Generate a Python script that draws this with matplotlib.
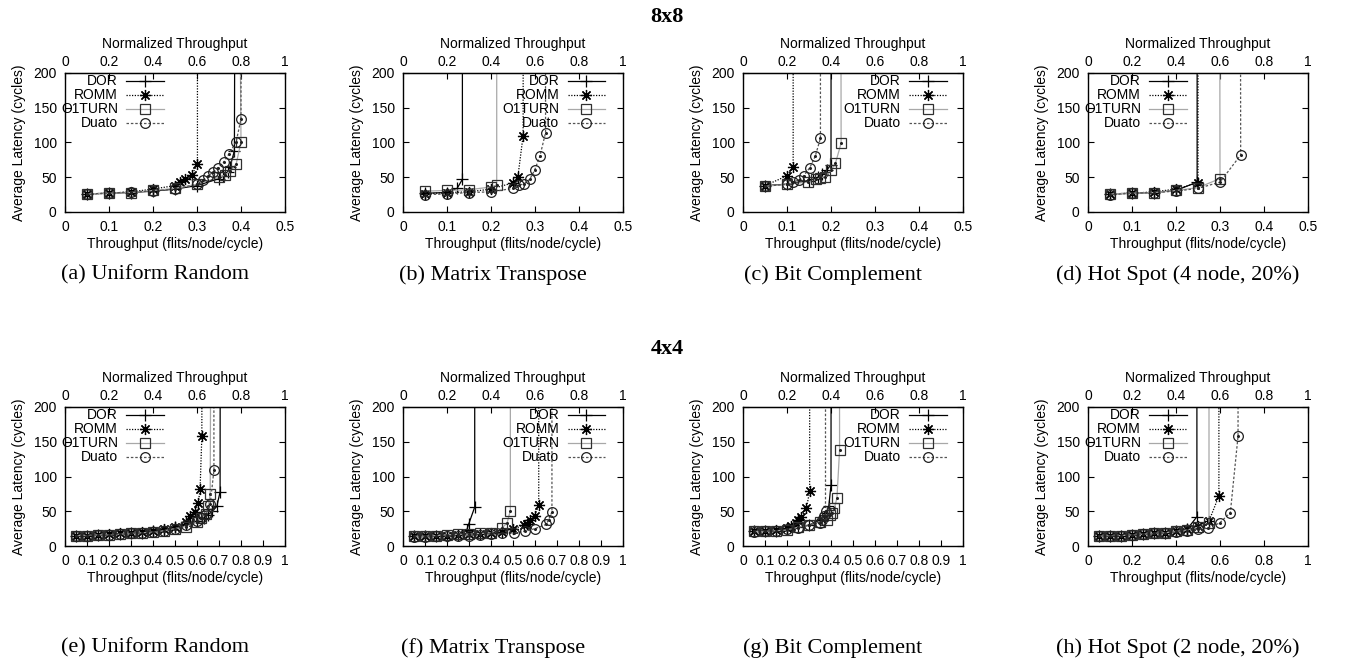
import matplotlib
matplotlib.use("Agg")
import matplotlib.pyplot as plt
import numpy as np
from matplotlib.ticker import FuncFormatter

SANS = "Liberation Sans"
SERIF = "Liberation Serif"
SAT = 1000  # latency past saturation, runs off the top of the plot

series_names = ["DOR", "ROMM", "O1TURN", "Duato"]

# ---- 8x8 ----
# (a) uniform random
a_dor_x = [0.05, 0.1, 0.15, 0.2, 0.25, 0.3, 0.35, 0.36, 0.37, 0.375, 0.385, 0.389]
a_dor_y = [26, 27, 28, 30, 33, 38, 48, 52, 58, 65, 88, SAT]
a_romm_x = [0.05, 0.1, 0.15, 0.2, 0.25, 0.262, 0.273, 0.288, 0.301, 0.301]
a_romm_y = [26, 27, 29, 33, 38, 43, 47, 53, 69, SAT]
a_o1_x = [0.05, 0.1, 0.15, 0.2, 0.25, 0.301, 0.35, 0.364, 0.375, 0.389, 0.4, 0.389]
a_o1_y = [26, 27, 28, 31, 34, 40, 50, 53, 59, 69, 101, SAT]
a_duato_x = [0.05, 0.1, 0.15, 0.2, 0.25, 0.3, 0.314, 0.326, 0.337, 0.348, 0.361, 0.373, 0.389, 0.4, 0.4]
a_duato_y = [26, 27, 29, 30, 33, 40, 46, 52, 58, 64, 72, 84, 101, 134, SAT]

# (b) matrix transpose
b_dor_x = [0.05, 0.1, 0.123, 0.135, 0.135]
b_dor_y = [27, 28, 34, 47, SAT]
b_romm_x = [0.05, 0.1, 0.15, 0.2, 0.25, 0.261, 0.273, 0.274]
b_romm_y = [26, 28, 29, 33, 42, 50, 110, SAT]
b_o1_x = [0.05, 0.1, 0.15, 0.2, 0.213, 0.213]
b_o1_y = [30, 31, 32, 36, 39, SAT]
b_duato_x = [0.05, 0.1, 0.15, 0.2, 0.25, 0.264, 0.274, 0.288, 0.299, 0.311, 0.324, 0.323]
b_duato_y = [25, 26, 28, 29, 34, 39, 40, 47, 60, 80, 114, SAT]

# (c) bit complement
c_dor_x = [0.05, 0.1, 0.15, 0.16, 0.17, 0.18, 0.19, 0.2, 0.201]
c_dor_y = [38, 40, 45, 47, 50, 55, 60, 68, SAT]
c_romm_x = [0.05, 0.1, 0.114, 0.114]
c_romm_y = [38, 52, 65, SAT]
c_o1_x = [0.05, 0.1, 0.148, 0.165, 0.175, 0.186, 0.2, 0.21, 0.223, 0.221]
c_o1_y = [37, 40, 43, 47, 49, 51, 60, 70, 99, SAT]
c_duato_x = [0.05, 0.1, 0.114, 0.127, 0.138, 0.152, 0.164, 0.176, 0.176]
c_duato_y = [37, 40, 43, 46, 52, 64, 80, 106, SAT]

# (d) hot spot (4 node, 20%)
d_dor_x = [0.05, 0.1, 0.15, 0.2, 0.248, 0.248]
d_dor_y = [26, 27, 28, 31, 43, SAT]
d_romm_x = [0.05, 0.1, 0.15, 0.2, 0.25, 0.25]
d_romm_y = [26, 27, 29, 33, 42, SAT]
d_o1_x = [0.05, 0.1, 0.15, 0.2, 0.25, 0.3, 0.298]
d_o1_y = [26, 27, 28, 31, 35, 48, SAT]
d_duato_x = [0.05, 0.1, 0.15, 0.2, 0.25, 0.3, 0.347, 0.345]
d_duato_y = [25, 27, 28, 30, 34, 43, 82, SAT]

# ---- 4x4 ----
# (e) uniform random
e_dor_x = [0.05, 0.1, 0.15, 0.2, 0.25, 0.3, 0.35, 0.4, 0.45, 0.5, 0.55, 0.6, 0.63, 0.65, 0.67, 0.69, 0.705, 0.707]
e_dor_y = [15, 15, 16, 16, 17, 18, 19, 21, 23, 27, 31, 36, 40, 45, 50, 57, 78, SAT]
e_romm_x = [0.05, 0.1, 0.15, 0.2, 0.25, 0.3, 0.35, 0.4, 0.45, 0.5, 0.55, 0.57, 0.59, 0.606, 0.614, 0.622, 0.625]
e_romm_y = [15, 15, 16, 17, 18, 19, 20, 22, 25, 28, 35, 43, 49, 62, 82, 158, SAT]
e_o1_x = [0.05, 0.1, 0.15, 0.2, 0.25, 0.3, 0.35, 0.4, 0.45, 0.5, 0.55, 0.6, 0.62, 0.64, 0.652, 0.66, 0.67]
e_o1_y = [15, 15, 16, 16, 17, 18, 19, 20, 22, 25, 28, 34, 40, 46, 57, 75, SAT]
e_duato_x = [0.05, 0.1, 0.15, 0.2, 0.25, 0.3, 0.35, 0.4, 0.45, 0.5, 0.55, 0.6, 0.62, 0.64, 0.66, 0.677, 0.675]
e_duato_y = [15, 15, 16, 16, 17, 18, 19, 20, 22, 25, 30, 36, 40, 46, 60, 109, SAT]

# (f) matrix transpose
f_dor_x = [0.05, 0.1, 0.15, 0.2, 0.25, 0.29, 0.298, 0.326, 0.326]
f_dor_y = [14, 14, 15, 15, 16, 23, 31, 56, SAT]
f_romm_x = [0.05, 0.1, 0.15, 0.2, 0.25, 0.3, 0.35, 0.4, 0.45, 0.5, 0.548, 0.565, 0.579, 0.598, 0.617, 0.617]
f_romm_y = [14, 14, 15, 15, 16, 17, 17, 19, 20, 24, 30, 32, 37, 43, 59, SAT]
f_o1_x = [0.05, 0.1, 0.15, 0.2, 0.25, 0.3, 0.35, 0.4, 0.45, 0.473, 0.488, 0.488]
f_o1_y = [14, 14, 15, 16, 17, 17, 18, 19, 26, 33, 51, SAT]
f_duato_x = [0.05, 0.1, 0.15, 0.2, 0.25, 0.3, 0.35, 0.4, 0.45, 0.503, 0.553, 0.6, 0.65, 0.662, 0.677, 0.677]
f_duato_y = [13, 13, 14, 14, 15, 15, 16, 17, 18, 19, 21, 25, 31, 38, 49, SAT]

# (g) bit complement
g_dor_x = [0.05, 0.1, 0.15, 0.2, 0.25, 0.3, 0.35, 0.37, 0.38, 0.39, 0.4, 0.402]
g_dor_y = [21, 22, 22, 24, 27, 30, 38, 42, 48, 57, 88, SAT]
g_romm_x = [0.05, 0.1, 0.15, 0.2, 0.22, 0.24, 0.25, 0.265, 0.288, 0.303, 0.303]
g_romm_y = [21, 22, 23, 26, 29, 33, 37, 42, 54, 79, SAT]
g_o1_x = [0.05, 0.1, 0.15, 0.2, 0.25, 0.3, 0.35, 0.38, 0.395, 0.406, 0.415, 0.427, 0.439, 0.436]
g_o1_y = [21, 21, 22, 23, 27, 30, 35, 38, 44, 48, 54, 69, 138, SAT]
g_duato_x = [0.05, 0.1, 0.15, 0.2, 0.25, 0.3, 0.35, 0.36, 0.37, 0.375, 0.375]
g_duato_y = [20, 21, 22, 24, 26, 30, 33, 38, 43, 50, SAT]

# (h) hot spot (2 node, 20%)
h_dor_x = [0.05, 0.1, 0.15, 0.2, 0.25, 0.3, 0.35, 0.4, 0.45, 0.495, 0.495]
h_dor_y = [14, 15, 15, 16, 17, 18, 19, 21, 24, 42, SAT]
h_romm_x = [0.05, 0.1, 0.15, 0.2, 0.25, 0.3, 0.35, 0.4, 0.45, 0.5, 0.55, 0.595, 0.595]
h_romm_y = [14, 15, 15, 16, 17, 18, 19, 21, 24, 29, 36, 72, SAT]
h_o1_x = [0.05, 0.1, 0.15, 0.2, 0.25, 0.3, 0.35, 0.4, 0.45, 0.5, 0.55, 0.55]
h_o1_y = [14, 15, 15, 16, 17, 18, 19, 21, 23, 27, 33, SAT]
h_duato_x = [0.05, 0.1, 0.15, 0.2, 0.25, 0.3, 0.35, 0.4, 0.45, 0.5, 0.545, 0.598, 0.647, 0.682, 0.682]
h_duato_y = [14, 15, 15, 16, 17, 18, 19, 20, 22, 24, 26, 33, 48, 158, SAT]

captions = ["(a) Uniform Random", "(b) Matrix Transpose", "(c) Bit Complement",
            "(d) Hot Spot (4 node, 20%)", "(e) Uniform Random", "(f) Matrix Transpose",
            "(g) Bit Complement", "(h) Hot Spot (2 node, 20%)"]

panels = [
    [(a_dor_x, a_dor_y), (a_romm_x, a_romm_y), (a_o1_x, a_o1_y), (a_duato_x, a_duato_y)],
    [(b_dor_x, b_dor_y), (b_romm_x, b_romm_y), (b_o1_x, b_o1_y), (b_duato_x, b_duato_y)],
    [(c_dor_x, c_dor_y), (c_romm_x, c_romm_y), (c_o1_x, c_o1_y), (c_duato_x, c_duato_y)],
    [(d_dor_x, d_dor_y), (d_romm_x, d_romm_y), (d_o1_x, d_o1_y), (d_duato_x, d_duato_y)],
    [(e_dor_x, e_dor_y), (e_romm_x, e_romm_y), (e_o1_x, e_o1_y), (e_duato_x, e_duato_y)],
    [(f_dor_x, f_dor_y), (f_romm_x, f_romm_y), (f_o1_x, f_o1_y), (f_duato_x, f_duato_y)],
    [(g_dor_x, g_dor_y), (g_romm_x, g_romm_y), (g_o1_x, g_o1_y), (g_duato_x, g_duato_y)],
    [(h_dor_x, h_dor_y), (h_romm_x, h_romm_y), (h_o1_x, h_o1_y), (h_duato_x, h_duato_y)],
]

styles = [
    dict(color="black", ls="-", marker="+", ms=8, mec="black"),
    dict(color="black", ls=(0, (1, 1.2)), marker=(8, 2, 0), ms=8, mec="black"),
    dict(color="#a8a8a8", ls="-", marker="s", ms=7, mec="#303030", mfc="none"),
    dict(color="#555555", ls=(0, (2, 1.5)), marker="o", ms=7, mec="#202020", mfc="none"),
]
# gnuplot puts a small dot in the middle of hollow points
center_dot = [False, False, True, True]

W, H = 1368, 668
fig = plt.figure(figsize=(W / 100, H / 100), dpi=100)

lefts = [65, 403, 743, 1088]
tops = [73, 407]
ax_w, ax_h = 220, 139
legend_right = [0.455, 0.925, 0.932, 0.455]
fmt = FuncFormatter(lambda v, p: f"{v:g}")

for i, data in enumerate(panels):
    row, col = divmod(i, 4)
    rect = [lefts[col] / W, 1 - (tops[row] + ax_h) / H, ax_w / W, ax_h / H]
    ax = fig.add_axes(rect)
    cap = 0.5 if row == 0 else 1.0
    for name, (xs, ys), st, dot in zip(series_names, data, styles, center_dot):
        ax.plot(xs, ys, lw=0.9, mew=0.9, label=name, **st)
        if dot:
            ax.plot(xs, ys, ls="none", marker="o", ms=1.2, color="#202020")
    ax.set_xlim(0, cap)
    ax.set_ylim(0, 200)
    ax.set_yticks(np.arange(0, 201, 50))
    if row == 0:
        ax.set_xticks(np.arange(0, 0.51, 0.1))
    elif col < 3:
        ax.set_xticks(np.arange(0, 1.01, 0.1))
    else:
        ax.set_xticks(np.arange(0, 1.01, 0.2))
    ax.xaxis.set_major_formatter(fmt)
    ax.tick_params(direction="in", length=4, width=0.8, right=True, top=False,
                   labelsize=10, pad=6)
    for lab in ax.get_xticklabels() + ax.get_yticklabels():
        lab.set_fontfamily(SANS)
    for sp in ax.spines.values():
        sp.set_linewidth(1.0)
    ax.set_xlabel("Throughput (flits/node/cycle)", fontsize=10, family=SANS, labelpad=2)
    ax.set_ylabel("Average Latency (cycles)", fontsize=10, family=SANS, labelpad=5)

    sec = ax.secondary_xaxis("top", functions=(lambda x, c=cap: x / c, lambda x, c=cap: x * c))
    sec.set_xticks(np.arange(0, 1.01, 0.2))
    sec.xaxis.set_major_formatter(fmt)
    sec.tick_params(direction="in", length=4, width=0.8, labelsize=10, pad=3)
    for lab in sec.get_xticklabels():
        lab.set_fontfamily(SANS)
    sec.set_xlabel("Normalized Throughput", fontsize=10, family=SANS, labelpad=5)

    ax.legend(loc="upper right", bbox_to_anchor=(legend_right[col], 1.0),
              frameon=False, markerfirst=False, handlelength=2.7,
              handletextpad=0.6, labelspacing=0.0, borderpad=0.1,
              borderaxespad=0.0, prop={"family": SANS, "size": 10})

    cx = (lefts[col] + ax_w / 2) / W
    cy = 1 - (275 if row == 0 else 648) / H
    fig.text(cx - 20 / W, cy, captions[i], ha="center", va="center",
             fontsize=16, family=SERIF)

fig.text(667 / W, 1 - 17 / H, "8x8", ha="center", va="center", fontsize=16,
         fontweight="bold", family=SERIF)
fig.text(667 / W, 1 - 349 / H, "4x4", ha="center", va="center", fontsize=16,
         fontweight="bold", family=SERIF)

fig.savefig("out.png", dpi=100)
